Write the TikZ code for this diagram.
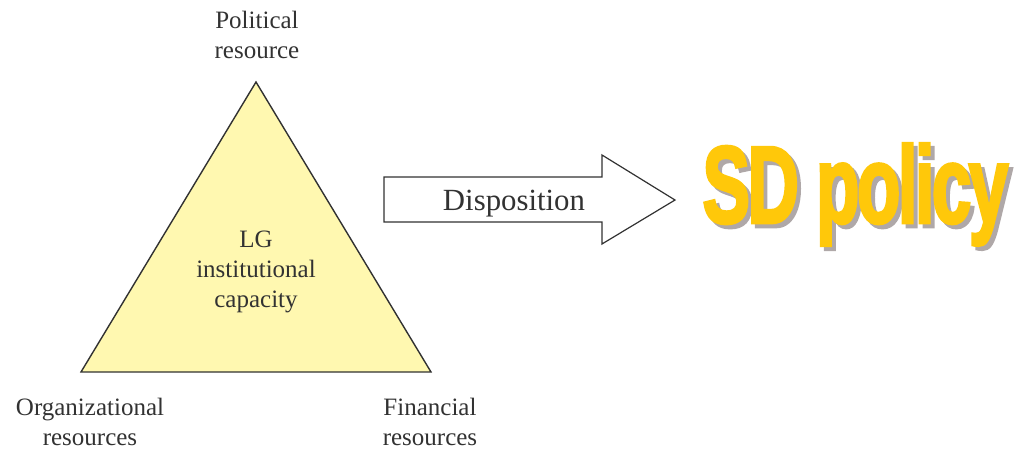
\documentclass[tikz,border=0pt]{standalone}
\usepackage{fontspec}
\setmainfont{Liberation Serif}
\newfontfamily\bannerfont[BoldFeatures={FakeBold=3, LetterSpace=-4}]{Liberation Sans}
\usepackage{graphicx}
\definecolor{triyellow}{RGB}{255,248,176}
\definecolor{sdyellow}{RGB}{255,200,10}
\definecolor{sdshadow}{RGB}{175,168,168}
\definecolor{inkgray}{RGB}{50,50,50}
\tikzset{
  label/.style={text=inkgray, align=center, font=\fontsize{12.5}{15}\selectfont, inner sep=0pt},
  banner/.style={inner sep=0pt, anchor=north west}
}
\newcommand{\sdword}{\resizebox*{153pt}{51pt}{\bannerfont\bfseries SD policy}}
\begin{document}
\begin{tikzpicture}[x=0.5pt, y=-0.5pt] % one unit = one pixel of the reference

        % Define parameters
        \def\apexx{256}  % top corner
        \def\apexy{82}
        \def\left{81}    % base corners
        \def\right{431}
        \def\base{372}

        % page size
        \useasboundingbox (0,0) rectangle (1014,450);

        % triangle
        \draw[inkgray, line width=0.7pt, fill=triyellow] (\apexx,\apexy) -- (\right,\base) -- (\left,\base) -- cycle;

        % corner labels
        \node[label] (political) at (257,35) {Political\\resource};
        \node[label] (organizational) at (90,422) {Organizational\\resources};
        \node[label] (financial) at (430,422) {Financial\\resources};
        \node[label] (capacity) at (256,272) {LG\\institutional\\capacity};

        % block arrow
        \draw[inkgray, line width=0.6pt, fill=white] (384,177) -- (602,177) -- (602,155) -- (675,200) -- (602,244) -- (602,222) -- (384,222) -- cycle;
        \node[label, font=\fontsize{15.4}{18}\selectfont] (disposition) at (514,204) {Disposition};

        % title, grey shadow behind yellow letters
        \node[banner] (policy) at (702,143) {\makebox[0pt][l]{\hspace{2pt}\raisebox{-2pt}{\color{sdshadow}\sdword}}\color{sdyellow}\sdword};

    \end{tikzpicture}
\end{document}
